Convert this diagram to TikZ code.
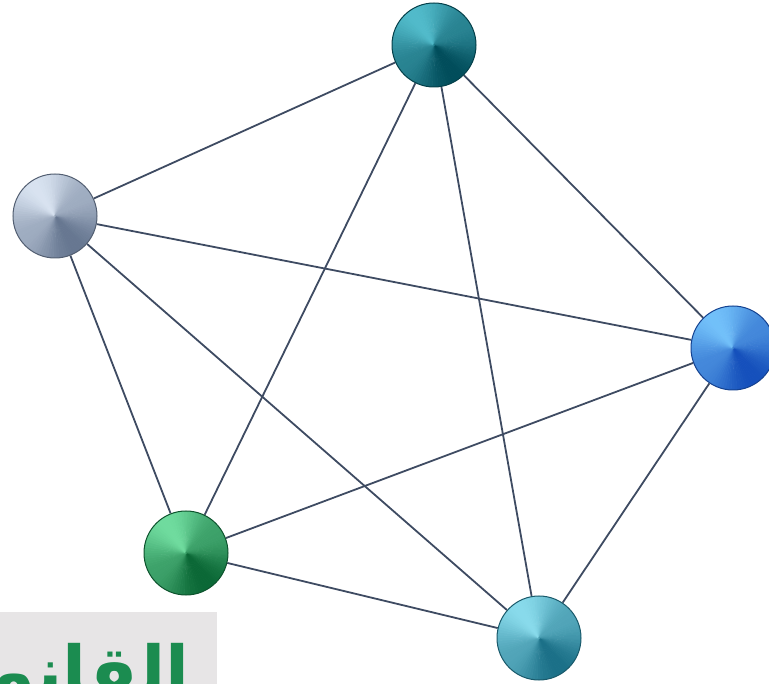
\documentclass[tikz,border=0pt]{standalone}
\usepackage{fontspec}
\newfontfamily\arabicfont[Script=Arabic]{DejaVu Sans}
\TeXXeTstate=1
\usetikzlibrary{backgrounds}

\definecolor{edgecol}{HTML}{3E4B62}
\definecolor{labelgreen}{HTML}{1B8C50}
\definecolor{labelgrey}{HTML}{E7E5E6}
% ball colours, light and dark side
\definecolor{ltop}{HTML}{58C4D4}
\definecolor{dtop}{HTML}{075563}
\definecolor{lleft}{HTML}{E2ECF9}
\definecolor{dleft}{HTML}{6F7F98}
\definecolor{lright}{HTML}{7ACAFF}
\definecolor{dright}{HTML}{1C58C0}
\definecolor{lgreen}{HTML}{78E6A8}
\definecolor{dgreen}{HTML}{12703D}
\definecolor{lbottom}{HTML}{92E4F4}
\definecolor{dbottom}{HTML}{23788F}

\tikzset{
  link/.style={draw=edgecol, line width=1.8pt},
  % conic look: wedges mixed from light to dark
  ball/.style n args={2}{circle, minimum size=84pt, inner sep=0pt,
    path picture={
      \foreach \a in {0,4,...,356} {
        \pgfmathsetmacro\c{cos(\a+125)}
        \pgfmathsetmacro\m{int(42+50*\c*abs(\c))}
        \filldraw[#1!\m!#2, line width=0.4pt] (path picture bounding box.center) -- ++(\a:45)
          arc[start angle=\a, end angle=\a+4.5, radius=45] -- cycle;
      }
    },
    draw=#2!75!black, line width=1pt}
}

\begin{document}
\begin{tikzpicture}[x=1pt, y=-1pt]
  \useasboundingbox (0,0) rectangle (769,684);

  % Balls
  \node[ball={ltop}{dtop}] (top) at (434,45) {};
  \node[ball={lleft}{dleft}] (left) at (55,216) {};
  \node[ball={lright}{dright}] (right) at (733,348) {};
  \node[ball={lgreen}{dgreen}] (green) at (186,553) {};
  \node[ball={lbottom}{dbottom}] (bottom) at (539,638) {};

  % Links
  \begin{scope}[on background layer]
    \draw[link] (top) -- (left);
    \draw[link] (top) -- (right);
    \draw[link] (top) -- (green);
    \draw[link] (top) -- (bottom);
    \draw[link] (left) -- (right);
    \draw[link] (left) -- (green);
    \draw[link] (left) -- (bottom);
    \draw[link] (right) -- (green);
    \draw[link] (right) -- (bottom);
    \draw[link] (green) -- (bottom);
  \end{scope}

  % Label
  \node[draw=none, fill=labelgrey, minimum width=217pt, minimum height=80pt, anchor=north west] (labelbox) at (0,612) {};
  \node[anchor=base east, text=labelgreen, inner sep=0pt, font=\arabicfont\bfseries\fontsize{70}{80}\selectfont] (law) at (190,696) {\beginR القانون\endR};

\end{tikzpicture}
\end{document}
